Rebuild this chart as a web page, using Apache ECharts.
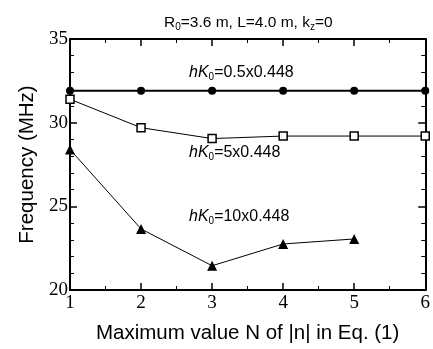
<!DOCTYPE html>
<html>
<head>
<meta charset="utf-8">
<script src="https://cdn.jsdelivr.net/npm/echarts@6/dist/echarts.min.js"></script>
<style>
  html, body { margin: 0; padding: 0; background: #fff; }
  #chart { width: 433px; height: 349px; }
</style>
</head>
<body>
<div id="chart"></div>
<script>
// N values on x axis
const nValues = [1, 2, 3, 4, 5, 6];
// frequency (MHz) for each hK0 case
const freqHalf = [31.9, 31.9, 31.9, 31.9, 31.9, 31.9];
const freqFive = [31.4, 29.7, 29.05, 29.2, 29.2, 29.2];
const freqTen = [28.4, 23.65, 21.45, 22.75, 23.05];

const serif = 'Liberation Serif';
const sans = 'Liberation Sans';

const chart = echarts.init(document.getElementById('chart'));

const pairs = (ys) => ys.map((y, i) => [nValues[i], y]);

const axisLine = { show: true, lineStyle: { color: '#000', width: 2 } };
const axisTick = { show: true, inside: true, length: 7, lineStyle: { color: '#000', width: 1.5 } };

const option = {
  animation: false,
  backgroundColor: '#fff',
  title: {
    text: 'R{sub|0}=3.6 m, L=4.0 m, k{sub|z}=0',
    left: 159,
    top: 9,
    textStyle: {
      fontFamily: sans,
      fontSize: 15.5,
      fontWeight: 'normal',
      color: '#000',
      rich: {
        sub: { fontFamily: sans, fontSize: 10, verticalAlign: 'bottom', padding: [8, 0, 0, 0] },
      },
    },
  },
  grid: { left: 70, right: 7, top: 39, bottom: 57 },
  xAxis: [
    {
      type: 'value', min: 1, max: 6, interval: 1, position: 'bottom',
      minorTick: { show: true, splitNumber: 2, length: 4, lineStyle: { color: '#000' } },
      axisLine: axisLine, axisTick: axisTick, splitLine: { show: false },
      axisLabel: { fontFamily: serif, fontSize: 19, color: '#000', margin: 4 },
      name: 'Maximum value N of |n| in Eq. (1)',
      nameLocation: 'middle', nameGap: 33,
      nameTextStyle: { fontFamily: sans, fontSize: 20.5, color: '#000' },
    },
    {
      type: 'value', min: 1, max: 6, interval: 1, position: 'top',
      minorTick: { show: true, splitNumber: 2, length: 4, lineStyle: { color: '#000' } },
      axisLine: axisLine, axisTick: axisTick, splitLine: { show: false },
      axisLabel: { show: false },
    },
  ],
  yAxis: [
    {
      type: 'value', min: 20, max: 35, interval: 5, position: 'left',
      minorTick: { show: true, splitNumber: 5, length: 4, lineStyle: { color: '#000' } },
      axisLine: axisLine, axisTick: axisTick, splitLine: { show: false },
      axisLabel: { fontFamily: serif, fontSize: 19, color: '#000', margin: 2 },
      name: 'Frequency (MHz)',
      nameLocation: 'middle', nameGap: 32,
      nameTextStyle: { fontFamily: sans, fontSize: 20.5, color: '#000' },
    },
    {
      type: 'value', min: 20, max: 35, interval: 5, position: 'right',
      minorTick: { show: true, splitNumber: 5, length: 4, lineStyle: { color: '#000' } },
      axisLine: axisLine, axisTick: axisTick, splitLine: { show: false },
      axisLabel: { show: false },
    },
  ],
  series: [
    {
      name: 'hK0=0.5x0.448', type: 'line', data: pairs(freqHalf),
      symbol: 'circle', symbolSize: 8,
      lineStyle: { color: '#000', width: 2 },
      itemStyle: { color: '#000' },
    },
    {
      name: 'hK0=5x0.448', type: 'line', data: pairs(freqFive),
      symbol: 'rect', symbolSize: 8,
      lineStyle: { color: '#000', width: 1 },
      itemStyle: { color: '#fff', borderColor: '#000', borderWidth: 1.5 },
    },
    {
      name: 'hK0=10x0.448', type: 'line', data: pairs(freqTen),
      symbol: 'triangle', symbolSize: 10,
      lineStyle: { color: '#000', width: 1 },
      itemStyle: { color: '#000' },
    },
  ],
  graphic: [
    ['0.5x0.448', 65],
    ['5x0.448', 145],
    ['10x0.448', 209],
  ].map(([txt, top]) => ({
    type: 'text', left: 189, top: top,
    style: {
      text: '{it|hK}{sub|0}{n|=' + txt + '}',
      rich: {
        it: { fontFamily: sans, fontSize: 16, fontStyle: 'italic', fill: '#000' },
        n: { fontFamily: sans, fontSize: 16, fill: '#000' },
        sub: { fontFamily: sans, fontSize: 10, fill: '#000', padding: [8, 0, 0, 0] },
      },
    },
  })),
};

chart.setOption(option);
</script>
</body>
</html>
